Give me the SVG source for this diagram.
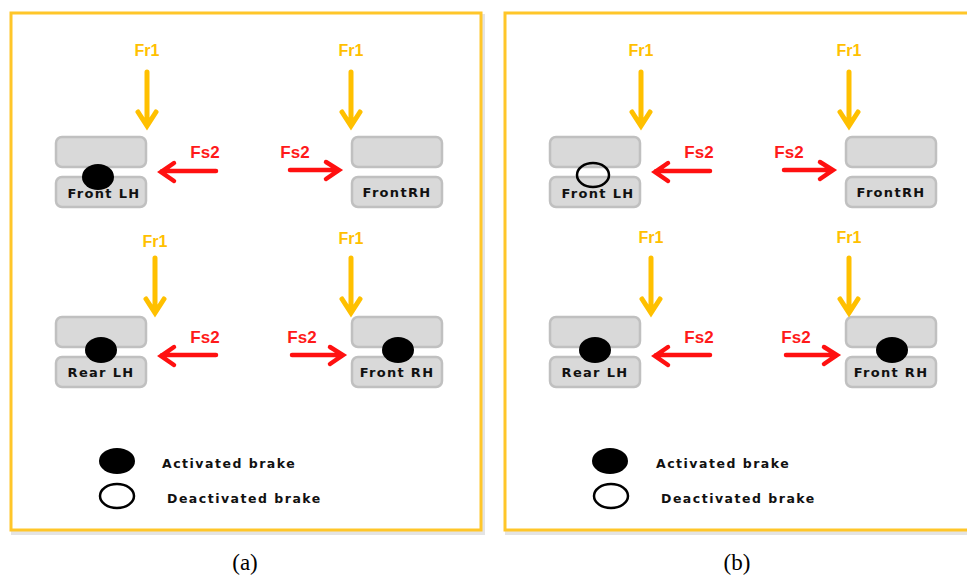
<svg xmlns="http://www.w3.org/2000/svg" width="967" height="581" viewBox="0 0 967 581">
<style>
.panel{fill:#fff;stroke:#ffc629;stroke-width:3}
.shadow{fill:none;stroke:#e4e4e4;stroke-width:4}
.box{fill:#d9d9d9;stroke:#c0c0c0;stroke-width:2.5}
.lbl{font-family:"DejaVu Sans",Verdana,sans-serif;font-weight:bold;font-size:13px;fill:#111;text-anchor:middle;letter-spacing:1.3px}
.fr{font-family:"Liberation Sans",Arial,sans-serif;font-weight:bold;font-size:16px;fill:#ffc000;text-anchor:middle}
.fs{font-family:"Liberation Sans",Arial,sans-serif;font-weight:bold;font-size:17px;fill:#ff1a1a;text-anchor:middle}
.ya{fill:none;stroke:#ffc000;stroke-width:5;stroke-linecap:round;stroke-linejoin:miter}
.ra{fill:none;stroke:#ff1010;stroke-width:4.5;stroke-linecap:round;stroke-linejoin:miter}
.on{fill:#000}
.off{fill:#fff;stroke:#000;stroke-width:2.5}
.leg{font-family:"DejaVu Sans",Verdana,sans-serif;font-weight:bold;font-size:12.5px;fill:#111;letter-spacing:1.5px}
.cap{font-family:"Liberation Serif","Times New Roman",serif;font-size:23px;fill:#000;text-anchor:middle}
</style>
<rect x="0" y="0" width="967" height="581" fill="#fff"/>
<g id="panelA">
<rect class="shadow" x="13" y="16" width="470" height="517"/>
<rect class="panel" x="11" y="13" width="470" height="517"/>
</g>
<g id="panelB">
<rect class="shadow" x="507" y="16" width="470" height="517"/>
<rect class="panel" x="505" y="13" width="470" height="517"/>
</g>

<g id="a-frontLH">
<rect class="box" x="56" y="137" width="90" height="30" rx="6"/>
<rect class="box" x="56" y="177" width="90" height="30" rx="6"/>
<ellipse class="on" cx="98" cy="177" rx="16" ry="13"/>
<text class="lbl" x="104" y="198">Front LH</text>
</g>
<g id="a-frontRH">
<rect class="box" x="352" y="137" width="90" height="30" rx="6"/>
<rect class="box" x="352" y="177" width="90" height="30" rx="6"/>
<text class="lbl" x="397" y="197">FrontRH</text>
</g>
<g id="a-rearLH">
<rect class="box" x="56" y="317" width="90" height="30" rx="6"/>
<rect class="box" x="56" y="357" width="90" height="30" rx="6"/>
<ellipse class="on" cx="101" cy="350" rx="16" ry="13"/>
<text class="lbl" x="101" y="377">Rear LH</text>
</g>
<g id="a-rearRH">
<rect class="box" x="352" y="317" width="90" height="30" rx="6"/>
<rect class="box" x="352" y="357" width="90" height="30" rx="6"/>
<ellipse class="on" cx="398" cy="350" rx="16" ry="13"/>
<text class="lbl" x="397" y="377">Front RH</text>
</g>

<g id="b-frontLH">
<rect class="box" x="550" y="137" width="90" height="30" rx="6"/>
<rect class="box" x="550" y="177" width="90" height="30" rx="6"/>
<text class="lbl" x="598" y="198">Front LH</text>
<ellipse fill="none" stroke="#000" stroke-width="2.5" cx="593" cy="175" rx="16" ry="12"/>
</g>
<g id="b-frontRH">
<rect class="box" x="846" y="137" width="90" height="30" rx="6"/>
<rect class="box" x="846" y="177" width="90" height="30" rx="6"/>
<text class="lbl" x="891" y="197">FrontRH</text>
</g>
<g id="b-rearLH">
<rect class="box" x="550" y="317" width="90" height="30" rx="6"/>
<rect class="box" x="550" y="357" width="90" height="30" rx="6"/>
<ellipse class="on" cx="595" cy="350" rx="16" ry="13"/>
<text class="lbl" x="595" y="377">Rear LH</text>
</g>
<g id="b-rearRH">
<rect class="box" x="846" y="317" width="90" height="30" rx="6"/>
<rect class="box" x="846" y="357" width="90" height="30" rx="6"/>
<ellipse class="on" cx="892" cy="350" rx="16" ry="13"/>
<text class="lbl" x="891" y="377">Front RH</text>
</g>

<g id="connectors">
<path class="ya" d="M147,72 V125 M138,112 L147,126 L156,112"/>
<path class="ya" d="M351,72 V125 M342,112 L351,126 L360,112"/>
<path class="ya" d="M155,258 V312 M146,299 L155,313 L164,299"/>
<path class="ya" d="M351,258 V312 M342,299 L351,313 L360,299"/>
<path class="ra" d="M216,171 H162 M174,163 L161,172 L174,181"/>
<path class="ra" d="M290,170 H338 M326,162 L339,170 L326,179"/>
<path class="ra" d="M216,355 H162 M174,347 L161,356 L174,365"/>
<path class="ra" d="M292,355 H342 M330,347 L343,355 L330,364"/>
<path class="ya" d="M641,72 V125 M632,112 L641,126 L650,112"/>
<path class="ya" d="M849,72 V125 M840,112 L849,126 L858,112"/>
<path class="ya" d="M651,258 V312 M642,299 L651,313 L660,299"/>
<path class="ya" d="M849,258 V312 M840,299 L849,313 L858,299"/>
<path class="ra" d="M710,171 H656 M668,163 L655,172 L668,181"/>
<path class="ra" d="M784,170 H832 M820,162 L833,170 L820,179"/>
<path class="ra" d="M710,355 H656 M668,347 L655,356 L668,365"/>
<path class="ra" d="M786,355 H836 M824,347 L837,355 L824,364"/>
</g>

<g id="labels">
<text class="fr" x="147" y="56">Fr1</text>
<text class="fr" x="351" y="56">Fr1</text>
<text class="fr" x="155" y="247">Fr1</text>
<text class="fr" x="351" y="244">Fr1</text>
<text class="fs" x="205" y="158">Fs2</text>
<text class="fs" x="295" y="158">Fs2</text>
<text class="fs" x="205" y="343">Fs2</text>
<text class="fs" x="302" y="343">Fs2</text>
<text class="fr" x="641" y="56">Fr1</text>
<text class="fr" x="849" y="56">Fr1</text>
<text class="fr" x="651" y="243">Fr1</text>
<text class="fr" x="849" y="243">Fr1</text>
<text class="fs" x="699" y="158">Fs2</text>
<text class="fs" x="789" y="158">Fs2</text>
<text class="fs" x="699" y="343">Fs2</text>
<text class="fs" x="796" y="343">Fs2</text>
</g>

<g id="legendA">
<ellipse class="on" cx="117" cy="461" rx="18" ry="13"/>
<text class="leg" x="162" y="468">Activated brake</text>
<ellipse class="off" cx="117" cy="496" rx="17" ry="12"/>
<text class="leg" x="167" y="503">Deactivated brake</text>
</g>
<g id="legendB">
<ellipse class="on" cx="610" cy="461" rx="18" ry="13"/>
<text class="leg" x="656" y="468">Activated brake</text>
<ellipse class="off" cx="611" cy="496" rx="17" ry="12"/>
<text class="leg" x="661" y="503">Deactivated brake</text>
</g>

<text class="cap" x="245" y="570">(a)</text>
<text class="cap" x="737" y="570">(b)</text>
</svg>
